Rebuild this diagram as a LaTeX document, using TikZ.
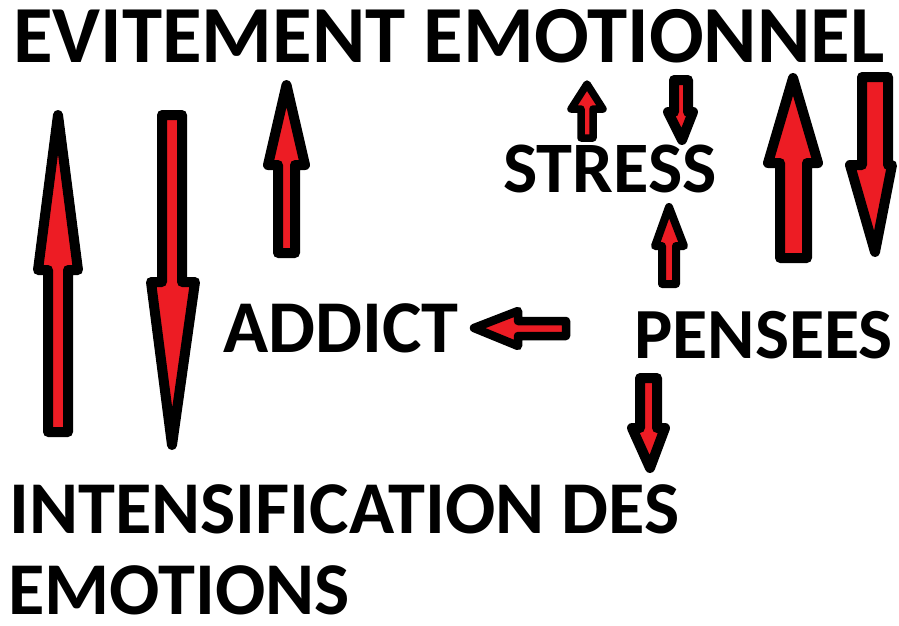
\documentclass[tikz,border=0pt]{standalone}
\usepackage{fontspec}
\setmainfont{Carlito}
\definecolor{paintred}{RGB}{237,28,36}
\tikzset{
  lbl/.style={inner sep=0pt, anchor=base west, text depth=0pt, text=black, font=\bfseries\fontsize{#1}{#1}\selectfont},
  blockarrow/.style={fill=paintred, draw=black, line join=round, line width=#1}
}
\begin{document}
\begin{tikzpicture}[x=1pt,y=-1pt]
\useasboundingbox[fill=white] (0,0) rectangle (899,626);
% text
\node[lbl=81] (evit) at (13,63) {EVITEMENT EMOTIONNEL};
\node[lbl=72.5] (stress) at (503,192) {STRESS};
\node[lbl=74.5] (addict) at (223,352) {ADDICT};
\node[lbl=72] (pensees) at (634,358) {PENSEES};
\node[lbl=74.5] (intens) at (9,533) {INTENSIFICATION DES};
\node[lbl=74.5] (emot) at (8,614) {EMOTIONS};
% A: big up, left
\filldraw[blockarrow=10] (58,115) -- (78,270) -- (68,270) -- (68,432) -- (48,432) -- (48,270) -- (38,270) -- cycle;
% B: big down, left
\filldraw[blockarrow=10] (162,115) -- (182,115) -- (182,282) -- (195,282) -- (172,445) -- (151,282) -- (162,282) -- cycle;
% C: up, above ADDICT
\filldraw[blockarrow=10] (286.5,85) -- (305,165) -- (295,165) -- (295,253) -- (278,253) -- (278,165) -- (268,165) -- cycle;
% D: small up, left of STRESS
\filldraw[blockarrow=7.5] (587,84) -- (603,109) -- (593,109) -- (593,138) -- (581,138) -- (581,109) -- (571,109) -- cycle;
% E: small down, above STRESS
\filldraw[blockarrow=10] (674,80) -- (688,80) -- (688,112) -- (693,112) -- (682,140) -- (668,112) -- (674,112) -- cycle;
% F: small up, below STRESS
\filldraw[blockarrow=8] (669,207) -- (684,246) -- (676,246) -- (676,284) -- (662,284) -- (662,246) -- (655,246) -- cycle;
% G: left, PENSEES to ADDICT
\filldraw[blockarrow=8.5] (474,328) -- (518,311) -- (518,321) -- (566,321) -- (566,336) -- (518,336) -- (518,346) -- cycle;
% H: big up, right
\filldraw[blockarrow=10] (793,78) -- (818,163) -- (807,163) -- (807,258) -- (780,258) -- (780,163) -- (768,163) -- cycle;
% I: big down, right
\filldraw[blockarrow=10] (862,77) -- (888,77) -- (888,165) -- (892,165) -- (875,252) -- (850,165) -- (862,165) -- cycle;
% J: down, below PENSEES
\filldraw[blockarrow=10] (640,378) -- (657,378) -- (657,428) -- (665,428) -- (650,468) -- (632,428) -- (640,428) -- cycle;
\end{tikzpicture}
\end{document}
